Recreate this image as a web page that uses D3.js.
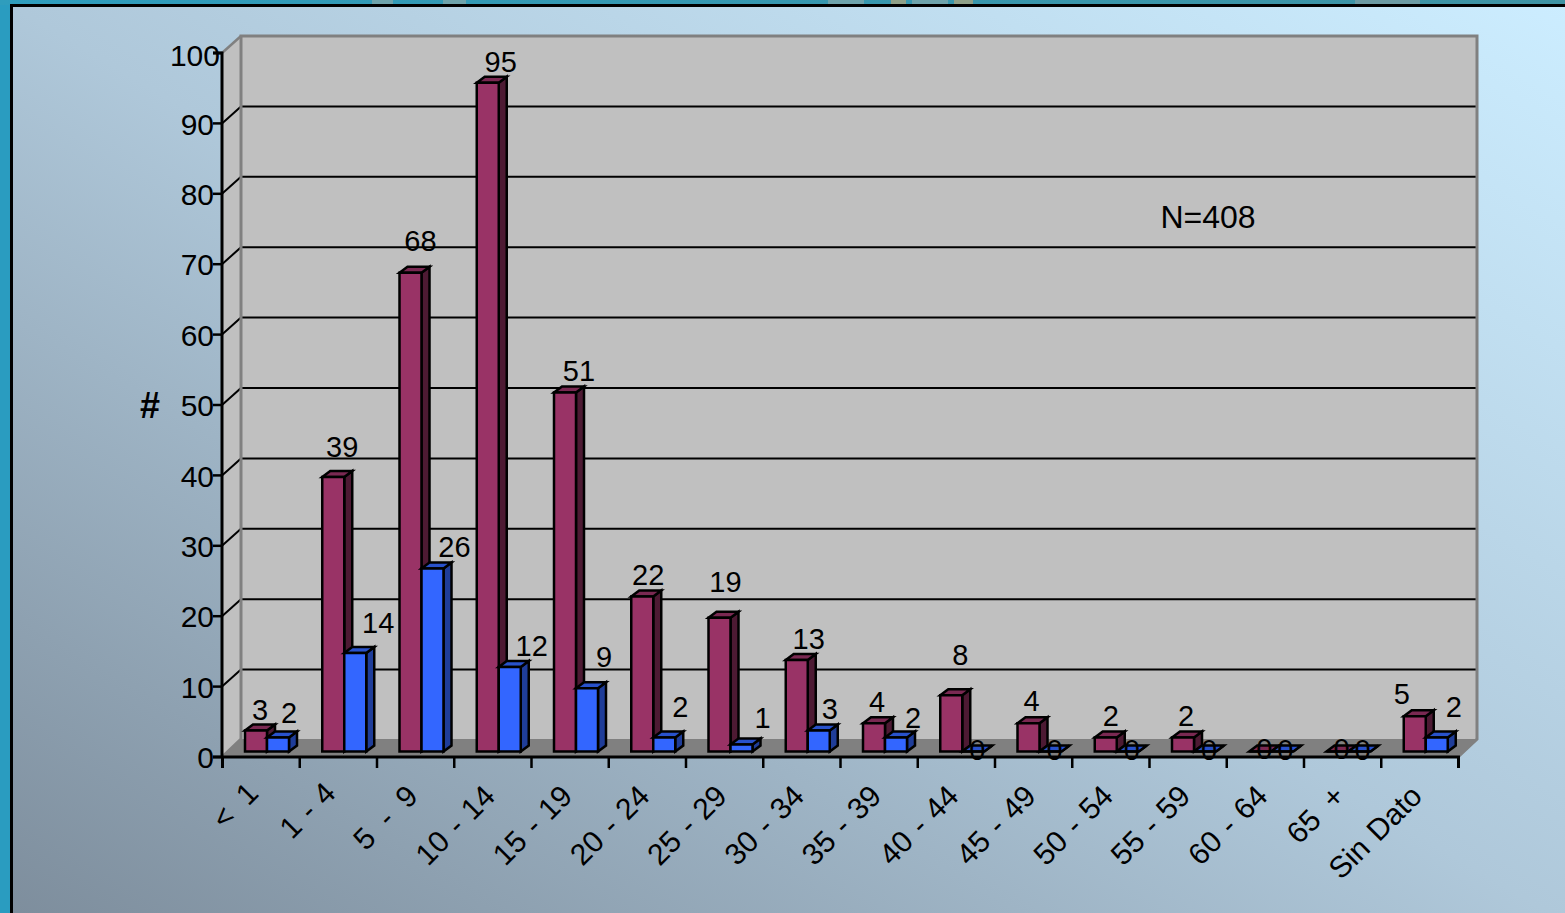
<!DOCTYPE html>
<html><head><meta charset="utf-8">
<script src="https://cdn.jsdelivr.net/npm/d3@7"></script>
<style>html,body{margin:0;padding:0;background:#2a9dc0;overflow:hidden}svg{display:block}text{font-family:"Liberation Sans",Arial,sans-serif;fill:#000}</style>
</head><body><svg id="c" width="1565" height="913"></svg>
<script>
const categories=["< 1","1 - 4","5 - 9","10 - 14","15 - 19","20 - 24","25 - 29","30 - 34","35 - 39","40 - 44","45 - 49","50 - 54","55 - 59","60 - 64","65 +","Sin Dato"];
const seriesA=[3,39,68,95,51,22,19,13,4,8,4,2,2,0,0,5];
const seriesB=[2,14,26,12,9,2,1,3,2,0,0,0,0,0,0,2];
const yTicks=[0,10,20,30,40,50,60,70,80,90,100];
// label nudges from the default spot above each bar (dx, dy)
const nudgeA=[[0,3],[5,-7],[6,-9],[9,2],[10,2],[2,1],[2,-13],[8,2],[-1,2],[5,-17],[-1,1],[1,2],[-1,2],[0,20],[0,20],[-17,1]];
const nudgeB=[[7,-1],[19,-7],[18,2],[18,2],[13,-8],[12,-7],[17,-3],[7,2],[13,4],[0,21],[0,21],[0,21],[0,21],[-1,21],[-1,21],[13,-7]];
// faint remains of an underlying picture along the top edge: [start, end, colour]
const topMarks=[[372,393,"#6fa3ab"],[443,466,"#6fa3ab"],[828,864,"#6fa3ab"],[891,906,"#8fa088"],[912,948,"#6fa3ab"],[954,973,"#8fa088"],[1355,1420,"#6d9ba3"]];

const svg=d3.select("#c");
const defs=svg.append("defs");
const g=defs.append("linearGradient").attr("id","bg").attr("x1",0).attr("y1",1).attr("x2",1).attr("y2",0);
g.append("stop").attr("offset","0%").attr("stop-color","#7d8d9c");
g.append("stop").attr("offset","50%").attr("stop-color","#afc8da");
g.append("stop").attr("offset","100%").attr("stop-color","#ccedff");
const tg=defs.append("linearGradient").attr("id","top").attr("x1",0).attr("x2",1).attr("y1",0).attr("y2",0);
tg.append("stop").attr("offset","0%").attr("stop-color","#2f9dbd");
tg.append("stop").attr("offset","100%").attr("stop-color","#3f93a3");
svg.append("rect").attr("width",1565).attr("height",913).attr("fill","#2a9cc0");
svg.append("rect").attr("width",1565).attr("height",5).attr("fill","url(#top)");
svg.append("g").selectAll("rect").data(topMarks).join("rect").attr("x",d=>d[0]).attr("width",d=>d[1]-d[0]).attr("y",0).attr("height",5).attr("fill",d=>d[2]);
svg.append("rect").attr("x",11.5).attr("y",5.5).attr("width",1560).attr("height",920).attr("fill","url(#bg)").attr("stroke","#000").attr("stroke-width",3);

const L=222,R=1458,D=19,H=18,GH=17;
const x=d3.scaleBand().domain(categories).range([L,R]);
const yAxisScale=d3.scaleLinear().domain([0,100]).range([757,53]);
const yBar=d3.scaleLinear().domain([0,100]).range([751.5,47.5]);
const inner=d3.scaleBand().domain(["a","b"]).range([0,44]);
const line=d3.line();

// walls and floor
svg.append("path").attr("d",line([[L,757],[L+D,757-H],[R+D,757-H],[R,757]])+"Z").attr("fill","#808080");
svg.append("path").attr("d",line([[L,53],[L+D,36],[L+D,739],[L,757]])+"Z").attr("fill","#c0c0c0");
svg.append("rect").attr("x",L+D).attr("y",36).attr("width",R-L).attr("height",703).attr("fill","#c0c0c0");
svg.append("g").selectAll("line").data(yTicks.filter(d=>d>0&&d<100)).join("line")
 .attr("x1",L+D).attr("x2",R+D).attr("y1",d=>yAxisScale(d)-GH).attr("y2",d=>yAxisScale(d)-GH).attr("stroke","#000").attr("stroke-width",2);
svg.append("g").selectAll("line").data(yTicks.filter(d=>d>0&&d<100)).join("line")
 .attr("x1",L).attr("x2",L+D).attr("y1",d=>yAxisScale(d)).attr("y2",d=>yAxisScale(d)-GH).attr("stroke","#000").attr("stroke-width",2);
svg.append("path").attr("d",line([[L,757],[L+D,739],[L+D,36],[R+D,36],[R+D,739],[R,757]])).attr("fill","none").attr("stroke","#808080").attr("stroke-width",3);
svg.append("path").attr("d",line([[L,53],[L+D,36]])).attr("stroke","#808080").attr("stroke-width",2.5);

// bars
const dx=8,dy=6;
function bars(vals,key,front,top,side){
 const gg=svg.append("g").selectAll("g").data(vals.map((v,i)=>({v,c:categories[i]}))).join("g")
  .attr("stroke","#000").attr("stroke-width",2.5).attr("stroke-linejoin","miter");
 const X=d=>x(d.c)+23+inner(key), W=inner.bandwidth(), B=yBar(0);
 gg.append("path").attr("fill",side).attr("d",d=>line([[X(d)+W,yBar(d.v)],[X(d)+W+dx,yBar(d.v)-dy],[X(d)+W+dx,B-dy],[X(d)+W,B]])+"Z");
 gg.append("path").attr("fill",top).attr("d",d=>line([[X(d),yBar(d.v)],[X(d)+dx,yBar(d.v)-dy],[X(d)+W+dx,yBar(d.v)-dy],[X(d)+W,yBar(d.v)]])+"Z");
 gg.append("path").attr("fill",front).attr("d",d=>line([[X(d),yBar(d.v)],[X(d)+W,yBar(d.v)],[X(d)+W,B],[X(d),B]])+"Z");
}
bars(seriesA,"a","#993366","#7a2952","#4d1a33");
bars(seriesB,"b","#3366ff","#2952cc","#1f3d99");

// axes
const ay=svg.append("g").attr("transform",`translate(${L},0)`).call(d3.axisLeft(yAxisScale).tickValues(yTicks).tickSize(9).offset(0));
ay.select(".domain").attr("stroke","#000").attr("stroke-width",3);
ay.selectAll(".tick line").attr("stroke","#000").attr("stroke-width",2.5);
ay.selectAll(".tick text").attr("font-size",30).attr("font-family","Liberation Sans").attr("x",-8).attr("dx",d=>d===100?6:0).attr("dy",d=>d===100?"0.42em":"0.37em");
const ax=svg.append("g").attr("transform","translate(0.5,757)").call(d3.axisBottom(x).tickSize(11).tickSizeOuter(11).offset(0));
ax.select(".domain").attr("stroke","#000").attr("stroke-width",3).attr("fill","none");
ax.selectAll(".tick line").attr("stroke","#000").attr("stroke-width",2.5).attr("transform",`translate(${-x.step()/2},0)`);
const wideSpaced=new Set(["5 - 9","< 1","65 +"]);
const shifted=new Set(["< 1","1 - 4"]);
ax.selectAll(".tick text").attr("font-size",30).attr("font-family","Liberation Sans").attr("text-anchor","end").attr("dy",0).attr("y",0)
 .attr("word-spacing",d=>wideSpaced.has(d)?8:2)
 .attr("transform",d=>`translate(${shifted.has(d)?-1:4},${shifted.has(d)?38:41}) rotate(-45)`);

// value labels
function labels(vals,key,nudge){
 svg.append("g").selectAll("text").data(vals.map((v,i)=>({v,c:categories[i],n:nudge[i]}))).join("text")
  .attr("font-size",29).attr("text-anchor","middle")
  .attr("x",d=>x(d.c)+23+inner(key)+inner.bandwidth()/2+4+d.n[0])
  .attr("y",d=>yBar(d.v)-13+d.n[1])
  .text(d=>d.v);
}
labels(seriesA,"a",nudgeA);
labels(seriesB,"b",nudgeB);

svg.append("text").attr("x",150).attr("y",418).attr("text-anchor","middle").attr("font-size",36).attr("font-weight","bold").text("#");
svg.append("text").attr("x",1208).attr("y",228).attr("text-anchor","middle").attr("font-size",32).text("N=408");
</script></body></html>
